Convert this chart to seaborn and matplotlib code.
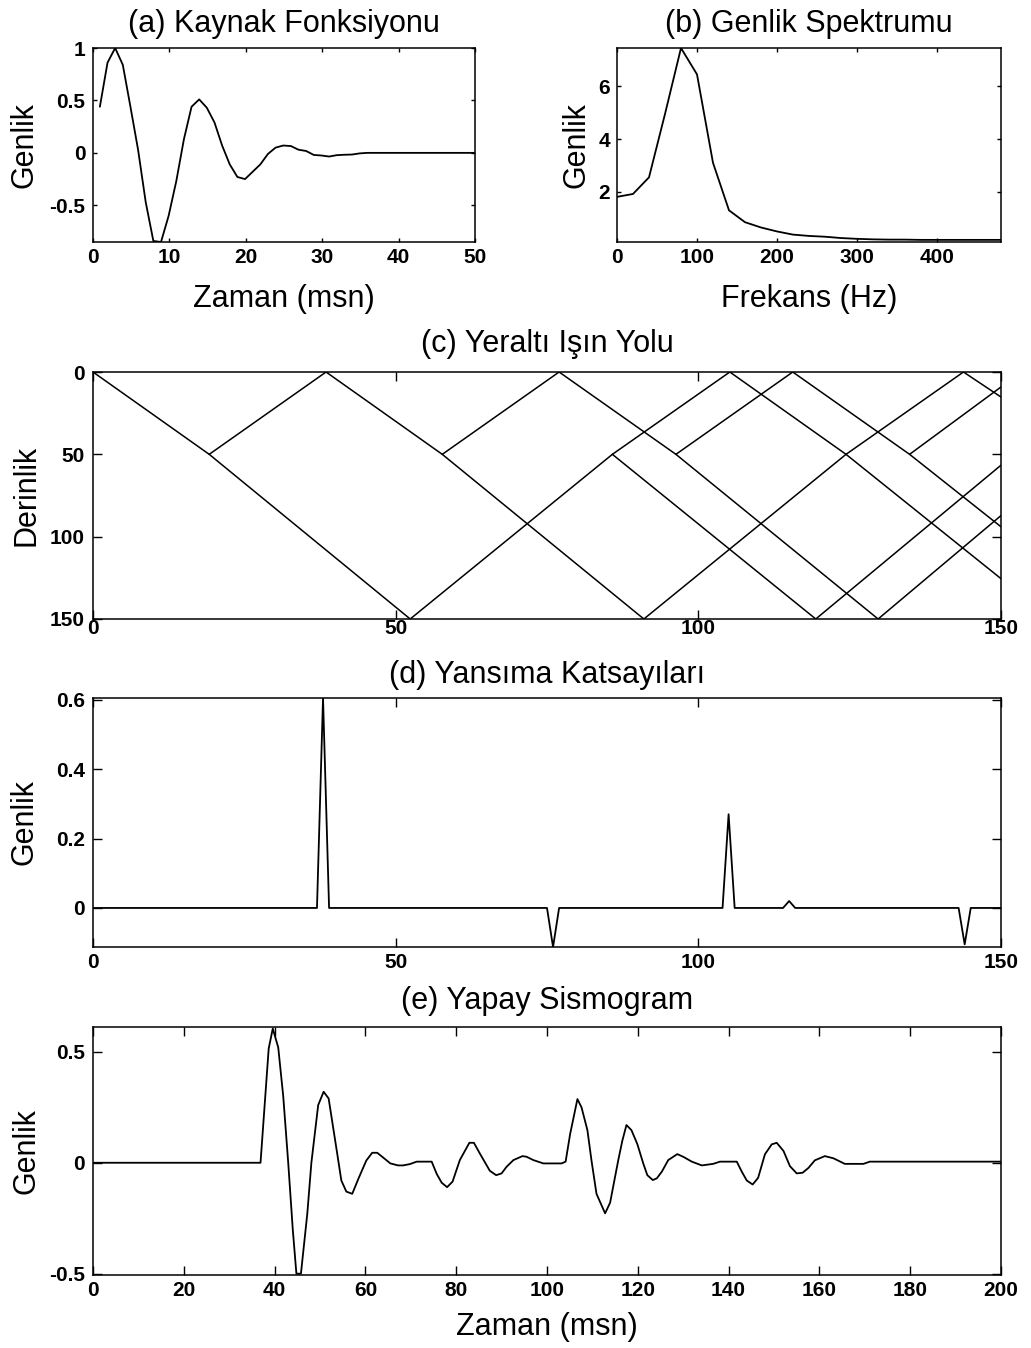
import numpy as np
import pandas as pd
import matplotlib
matplotlib.use("Agg")
import matplotlib.pyplot as plt
from matplotlib import transforms
import seaborn as sns

# ---------------- data ----------------
# (a) source wavelet
wav_t = [0.9, 1.9, 2.9, 3.9, 4.9, 5.9, 6.9, 7.9, 8.9, 9.9,
         10.9, 11.9, 12.9, 13.9, 14.9, 15.9, 16.9, 17.9, 18.9, 19.9,
         20.9, 21.9, 22.9, 23.9, 24.9, 25.9, 26.9, 27.9, 28.9, 29.9,
         30.9, 31.9, 32.9, 33.9, 34.9, 35.9, 40.0, 45.0, 50.0]
wav_amp = [0.44, 0.86, 1.0, 0.84, 0.44, 0.03, -0.47, -0.84, -0.85, -0.6,
           -0.27, 0.13, 0.44, 0.51, 0.43, 0.29, 0.07, -0.11, -0.23, -0.25,
           -0.18, -0.11, -0.01, 0.05, 0.07, 0.065, 0.03, 0.018, -0.02, -0.025,
           -0.035, -0.022, -0.018, -0.016, -0.005, 0.0, 0.0, 0.0, 0.0]

# (b) amplitude spectrum
spec_f = [0, 20, 40, 60, 80, 100, 120, 140, 160, 180, 200, 220, 240,
          260, 280, 300, 320, 340, 360, 380, 400, 420, 440, 460, 480]
spec_amp = [1.81, 1.92, 2.55, 4.95, 7.45, 6.45, 3.1, 1.3, 0.85, 0.65, 0.5, 0.38, 0.33,
            0.3, 0.25, 0.22, 0.2, 0.19, 0.19, 0.18, 0.18, 0.18, 0.18, 0.18, 0.18]

# (c) ray path segments (distance, depth)
ray_x_start = [0, 19.2, 19.2, 38.5, 57.7, 57.7, 52.4, 85.8, 85.8, 77.0, 96.3, 96.3,
               91.0, 124.4, 124.4, 105.2, 115.6, 134.9, 134.9, 119.4, 129.7, 143.8]
ray_z_start = [0, 50, 50, 0, 50, 50, 150, 50, 50, 0, 50, 50,
               150, 50, 50, 0, 0, 50, 50, 150, 150, 0]
ray_x_end = [19.2, 52.4, 38.5, 57.7, 91.0, 77.0, 85.8, 105.2, 119.4, 96.3, 129.7, 115.6,
             124.4, 143.8, 150, 124.4, 134.9, 150, 150, 150, 150, 150]
ray_z_end = [50, 150, 0, 50, 150, 0, 50, 0, 150, 50, 150, 0,
             50, 0, 125.5, 50, 50, 9.1, 94, 56.6, 87.2, 15.2]

# (d) reflection coefficients
refl_pos = [38, 76, 105, 115, 144]
refl_amp = [0.605, -0.1125, 0.27, 0.02, -0.105]

# (e) synthetic seismogram
seis_t = [0, 36.9, 38.7, 39.6, 40.8, 41.9, 43.0, 44.0, 44.8, 45.8, 47.2, 48.1, 49.6, 50.8,
          51.9, 53.8, 54.7, 55.8, 57.1, 58.5, 60.2, 61.5, 62.6, 63.7, 65.5, 67.2, 68.3, 69.8,
          71.3, 74.6, 75.7, 76.8, 78.0, 79.2, 80.8, 82.9, 83.9, 85.2, 87.4, 88.8, 90.0, 91.1,
          92.6, 94.6, 95.5, 97.0, 99.2, 103.2, 104.1, 105.1, 106.7, 107.6, 108.9, 109.8, 110.9,
          112.8, 113.9, 115.7, 116.6, 117.5, 118.6, 119.9, 121.2, 122.1, 123.3, 124.2, 125.3,
          126.7, 128.7, 130.0, 131.9, 134.1, 136.6, 138.1, 141.8, 142.9, 144.0, 145.3, 146.5,
          148.0, 149.5, 150.6, 152.1, 153.5, 155.0, 156.3, 157.6, 159.0, 161.2, 163.1, 165.6,
          169.7, 171.1, 200]
seis_amp = [0, 0, 0.515, 0.605, 0.52, 0.3, 0.0, -0.3, -0.5, -0.5, -0.23, 0.0, 0.26, 0.32,
            0.29, 0.04, -0.08, -0.13, -0.14, -0.07, 0.01, 0.045, 0.045, 0.027, -0.003, -0.012,
            -0.012, -0.006, 0.005, 0.005, -0.05, -0.09, -0.11, -0.085, 0.012, 0.09, 0.09, 0.042,
            -0.036, -0.056, -0.048, -0.018, 0.012, 0.03, 0.027, 0.012, -0.003, -0.003, 0.005,
            0.13, 0.287, 0.25, 0.147, 0.01, -0.14, -0.228, -0.18, 0.012, 0.1, 0.17, 0.147, 0.084,
            -0.003, -0.056, -0.078, -0.07, -0.04, 0.012, 0.039, 0.027, 0.005, -0.012, -0.005,
            0.005, 0.005, -0.04, -0.08, -0.098, -0.068, 0.038, 0.083, 0.09, 0.053, -0.015,
            -0.048, -0.045, -0.023, 0.011, 0.03, 0.02, -0.005, -0.005, 0.005, 0.005]

# ---------------- style ----------------
sns.set_theme(style="white")
plt.rcParams["font.family"] = ["Liberation Sans", "DejaVu Sans"]
plt.rcParams["axes.linewidth"] = 1.1

W, H = 1031, 1348
fig = plt.figure(figsize=(W / 100, H / 100), dpi=100)

TITLE_FS = 22
LABEL_FS = 22
TICK_FS = 15
LW = 1.3


def add_ax(l, t, r, b):
    return fig.add_axes([l / W, 1 - b / H, (r - l) / W, (b - t) / H])


def style(ax, ticklen, xpad, ypad, xticks, xlabels, yticks, ylabels):
    for s in ax.spines.values():
        s.set_visible(True)
        s.set_color("black")
        s.set_linewidth(1.1)
    ax.set_xticks(xticks, labels=xlabels, fontweight="bold", fontsize=TICK_FS)
    ax.set_yticks(yticks, labels=ylabels, fontweight="bold", fontsize=TICK_FS)
    ax.tick_params(axis="both", direction="in", length=ticklen, width=1.0,
                   top=True, right=True, bottom=True, left=True, colors="black")
    ax.tick_params(axis="x", pad=xpad)
    ax.tick_params(axis="y", pad=ypad)
    ax.grid(False)


def ylab(ax, text, xpix):
    ax.set_ylabel(text, fontsize=LABEL_FS, color="black")
    ax.yaxis.set_label_coords(xpix / W, 0.5,
                              transform=transforms.blended_transform_factory(fig.transFigure, ax.transAxes))


def xlab(ax, text, ypix):
    ax.set_xlabel(text, fontsize=LABEL_FS, color="black")
    ax.xaxis.set_label_coords(0.5, 1 - ypix / H,
                              transform=transforms.blended_transform_factory(ax.transAxes, fig.transFigure))


# (a)
ax_a = add_ax(93, 48, 475, 242)
sns.lineplot(x=wav_t, y=wav_amp, ax=ax_a, color="black", linewidth=LW, estimator=None, sort=False)
ax_a.set_xlim(0, 50)
ax_a.set_ylim(-0.85, 1.0)
style(ax_a, 3, 4.5, 5.5, [0, 10, 20, 30, 40, 50], ["0", "10", "20", "30", "40", "50"],
      [-0.5, 0, 0.5, 1], ["-0.5", "0", "0.5", "1"])
ax_a.set_title("(a) Kaynak Fonksiyonu", fontsize=TITLE_FS, pad=11.7, color="black")
xlab(ax_a, "Zaman (msn)", 284)
ylab(ax_a, "Genlik", 40)

# (b)
ax_b = add_ax(617, 48, 1001, 242)
sns.lineplot(x=spec_f, y=spec_amp, ax=ax_b, color="black", linewidth=LW, estimator=None, sort=False)
ax_b.set_xlim(0, 480)
ax_b.set_ylim(0.1, 7.45)
style(ax_b, 3, 4.5, 5, [0, 100, 200, 300, 400], ["0", "100", "200", "300", "400"],
      [2, 4, 6], ["2", "4", "6"])
ax_b.set_title("(b) Genlik Spektrumu", fontsize=TITLE_FS, pad=11.7, color="black")
xlab(ax_b, "Frekans (Hz)", 284)
ylab(ax_b, "Genlik", 592)

# (c)
ax_c = add_ax(93, 372, 1001, 619)
seg_rows = []
for i in range(len(ray_x_start)):
    seg_rows.append({"seg": i, "order": 0, "x": ray_x_start[i], "z": ray_z_start[i]})
    seg_rows.append({"seg": i, "order": 1, "x": ray_x_end[i], "z": ray_z_end[i]})
df_ray = pd.DataFrame(seg_rows)
sns.lineplot(data=df_ray, x="x", y="z", units="seg", estimator=None, sort=False,
             ax=ax_c, color="black", linewidth=1.1)
ax_c.set_xlim(0, 150)
ax_c.set_ylim(150, 0)
style(ax_c, 6.5, 0.3, 5.8, [0, 50, 100, 150], ["0", "50", "100", "150"],
      [0, 50, 100, 150], ["0", "50", "100", "150"])
ax_c.set_title("(c) Yeraltı Işın Yolu", fontsize=TITLE_FS, pad=14.4, color="black")
ax_c.set_xlabel("")
ylab(ax_c, "Derinlik", 41.5)

# (d)
ax_d = add_ax(93, 698, 1001, 947)
refl_x = np.arange(0, 151)
refl = np.zeros(151)
for p, a in zip(refl_pos, refl_amp):
    refl[p] = a
sns.lineplot(x=refl_x, y=refl, ax=ax_d, color="black", linewidth=LW, estimator=None, sort=False)
ax_d.set_xlim(0, 150)
ax_d.set_ylim(-0.1125, 0.605)
style(ax_d, 6.5, 4.5, 5.8, [0, 50, 100, 150], ["0", "50", "100", "150"],
      [0, 0.2, 0.4, 0.6], ["0", "0.2", "0.4", "0.6"])
ax_d.set_title("(d) Yansıma Katsayıları", fontsize=TITLE_FS, pad=10.8, color="black")
ax_d.set_xlabel("")
ylab(ax_d, "Genlik", 40)

# (e)
ax_e = add_ax(93, 1027, 1001, 1275)
sns.lineplot(x=seis_t, y=seis_amp, ax=ax_e, color="black", linewidth=LW, estimator=None, sort=False)
ax_e.set_xlim(0, 200)
ax_e.set_ylim(-0.506, 0.612)
style(ax_e, 6.5, 4.5, 5.8, list(range(0, 201, 20)), [str(v) for v in range(0, 201, 20)],
      [-0.5, 0, 0.5], ["-0.5", "0", "0.5"])
ax_e.set_title("(e) Yapay Sismogram", fontsize=TITLE_FS, pad=13, color="black")
xlab(ax_e, "Zaman (msn)", 1312)
ylab(ax_e, "Genlik", 41)

fig.savefig("out.png", dpi=100, facecolor="white")
